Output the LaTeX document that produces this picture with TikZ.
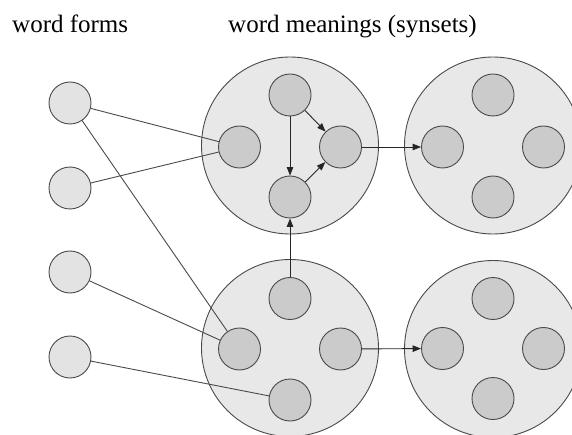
\documentclass[tikz,border=0pt]{standalone}
\usepackage{fontspec}
\setmainfont{Liberation Serif}
\usetikzlibrary{arrows.meta}
\definecolor{bigfill}{HTML}{E8E8E8}
\definecolor{innerfill}{HTML}{CBCBCB}
\definecolor{wffill}{HTML}{E3E3E3}
\definecolor{edgecol}{HTML}{4A4A4A}
\begin{document}
\begin{tikzpicture}[x=1pt,y=-1pt,
  bigc/.style={circle,draw=edgecol,fill=bigfill,line width=0.9pt,minimum size=177pt,inner sep=0pt},
  inner/.style={circle,draw=edgecol,fill=innerfill,line width=0.9pt,minimum size=42pt,inner sep=0pt},
  wf/.style={circle,draw=edgecol,fill=wffill,line width=0.9pt,minimum size=42pt,inner sep=0pt},
  link/.style={draw=edgecol,line width=0.9pt},
  arr/.style={draw=black!85,line width=0.9pt,-{Triangle[length=8.5pt,width=6.5pt]}},
  lbl/.style={anchor=base west,inner sep=0pt,font=\fontsize{25}{30}\selectfont}
]
\useasboundingbox (0,0) rectangle (572,435);
% labels
\node[lbl] (t1) at (12,33) {word forms};
\node[lbl] (t2) at (228,33) {word meanings (synsets)};
% big circles
\node[bigc] (B1) at (290,145.5) {};
\node[bigc] (B2) at (290,348) {};
\node[bigc] (B3) at (493,145.5) {};
\node[bigc] (B4) at (493,349) {};
% inner circles top-left
\node[inner] (a1) at (290,95) {};
\node[inner] (a2) at (239.5,147) {};
\node[inner] (a3) at (340.5,147) {};
\node[inner] (a4) at (290,197) {};
% bottom-left
\node[inner] (b1) at (290,298.5) {};
\node[inner] (b2) at (239.5,349) {};
\node[inner] (b3) at (340.5,349) {};
\node[inner] (b4) at (290,400) {};
% top-right
\node[inner] (c1) at (493,95) {};
\node[inner] (c2) at (442.5,147) {};
\node[inner] (c3) at (543.5,147) {};
\node[inner] (c4) at (493,197) {};
% bottom-right
\node[inner] (d1) at (493,298.5) {};
\node[inner] (d2) at (442.5,348.5) {};
\node[inner] (d3) at (543.5,348.5) {};
\node[inner] (d4) at (493,398.5) {};
% word forms
\node[wf] (w1) at (70,103) {};
\node[wf] (w2) at (70,188) {};
\node[wf] (w3) at (70,272) {};
\node[wf] (w4) at (70,357) {};
% links
\draw[link] (w1) -- (a2);
\draw[link] (w2) -- (a2);
\draw[link] (w1) -- (b2);
\draw[link] (w3) -- (b2);
\draw[link] (w4) -- (b4);
% arrows
\draw[arr] (a1) -- (a3);
\draw[arr] (a1) -- (a4);
\draw[arr] (a4) -- (a3);
\draw[arr] (b1) -- (a4);
\draw[arr] (a3) -- (c2);
\draw[arr] (b3) -- (d2);
\end{tikzpicture}
\end{document}
